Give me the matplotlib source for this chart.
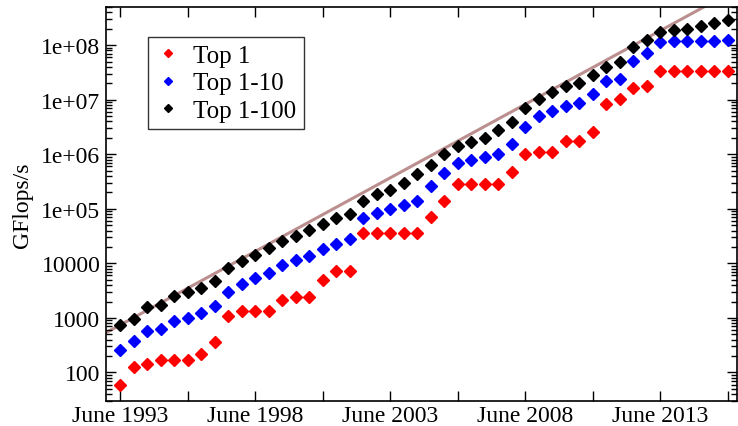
import matplotlib
matplotlib.use("Agg")
import matplotlib.pyplot as plt
import numpy as np
from matplotlib.ticker import FixedLocator, FixedFormatter, LogLocator, NullFormatter

# one list entry per TOP500 list, June 1993 .. Nov 2015 (GFlops/s)
top1 = [59.7, 124.5, 143.4, 170.4, 170.4, 170.4, 220.4, 368.2, 1068, 1338,
        1338, 1338, 2121, 2379, 2379, 4938, 7226, 7226, 35860, 35860,
        35860, 35860, 35860, 70720, 136800, 280600, 280600, 280600, 280600, 478200,
        1026000, 1105000, 1105000, 1759000, 1759000, 2566000, 8162000, 10510000, 16320000, 17590000,
        33860000, 33860000, 33860000, 33860000, 33860000, 33860000]
top10 = [256, 372, 568, 630, 896, 1005, 1242, 1623, 2980, 4130,
         5495, 6795, 9265, 11610, 13400, 18050, 22900, 28330, 68250, 85500,
         100000, 118600, 138700, 262400, 456000, 697000, 769000, 883000, 1021000, 1535000,
         3214000, 5040000, 6240000, 7710000, 8650000, 12700000, 21800000, 24000000, 50900000, 71500000,
         114000000, 117000000, 117000000, 117000000, 117000000, 124000000]
top100 = [755, 975, 1575, 1745, 2558, 2943, 3533, 4753, 8260, 10990,
          14360, 18840, 25350, 32150, 41500, 53550, 67350, 79800, 138700, 189200,
          217800, 298000, 429500, 640000, 1021000, 1393000, 1651000, 2015000, 2785000, 3980000,
          7000000, 10400000, 13800000, 17600000, 20000000, 28100000, 39900000, 48800000, 90700000, 122000000,
          177000000, 190000000, 201000000, 225000000, 259000000, 286000000]

x_labels = ["June 1993", "", "June 1998", "", "June 2003", "", "June 2008", "", "June 2013", ""]
y_labels = ["100", "1000", "10000", "1e+05", "1e+06", "1e+07", "1e+08"]

# exponential trend line: value at the first list and growth per half year
trend_start = 740
trend_rate = 1.364

plt.rcParams["font.family"] = ["Liberation Serif", "DejaVu Serif"]

fig = plt.figure(figsize=(7.38, 4.27), dpi=100)
ax = fig.add_axes([0.1436, 0.0585, 0.855, 0.9228])

idx = np.arange(len(top1))
tx = np.linspace(-2, 47, 50)
ax.plot(tx, trend_start * trend_rate ** tx, color="#bc8f8f", linewidth=2.2, zorder=1)

ms = 6.5
ax.plot(idx, top1, "D", color="#ff0000", markersize=ms, linestyle="none", label="Top 1", zorder=3)
ax.plot(idx, top10, "D", color="#0000ff", markersize=ms, linestyle="none", label="Top 1-10", zorder=3)
ax.plot(idx, top100, "D", color="black", markersize=ms, linestyle="none", label="Top 1-100", zorder=3)

ax.set_yscale("log")
ax.set_xlim(-1.04, 45.7)
ax.set_ylim(30, 5e8)

ax.xaxis.set_major_locator(FixedLocator(np.arange(0, 46, 5)))
ax.xaxis.set_major_formatter(FixedFormatter(x_labels))
ax.yaxis.set_major_locator(FixedLocator([10.0 ** k for k in range(2, 9)]))
ax.yaxis.set_major_formatter(FixedFormatter(y_labels))
ax.yaxis.set_minor_locator(LogLocator(base=10, subs=np.arange(2, 10), numticks=20))
ax.yaxis.set_minor_formatter(NullFormatter())

ax.tick_params(which="both", direction="in", top=True, right=True, labelsize=17, width=1)
ax.tick_params(which="major", length=7, pad=4)
ax.tick_params(which="minor", length=4)
ax.tick_params(axis="x", pad=3)
for s in ax.spines.values():
    s.set_linewidth(1.2)

ax.set_ylabel("GFlops/s", fontsize=17, labelpad=6)

leg = ax.legend(loc="upper left", bbox_to_anchor=(0.0666, 0.924), borderaxespad=0,
                fontsize=18, frameon=True, fancybox=False, markerscale=0.65,
                handlelength=1.0, handletextpad=0.5, labelspacing=0.2, borderpad=0.3)
leg.get_frame().set_edgecolor("black")
leg.get_frame().set_linewidth(1.0)

fig.savefig("out.png", dpi=100)
